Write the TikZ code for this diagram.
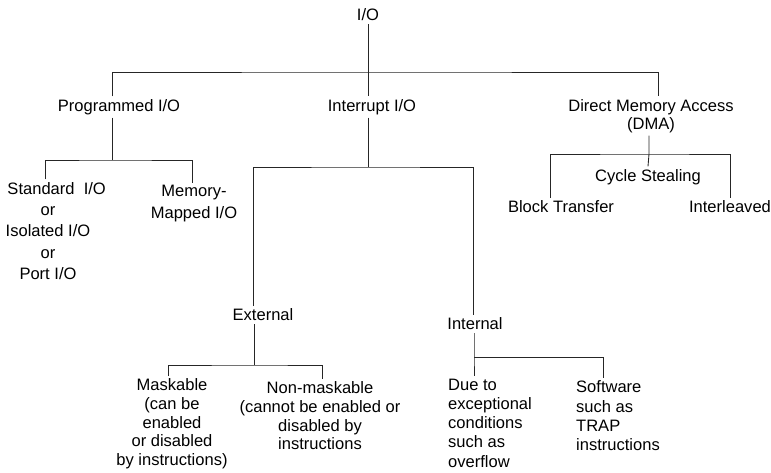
\documentclass[tikz,border=0pt]{standalone}
\usepackage{fontspec}
\setmainfont{Liberation Sans}
\usetikzlibrary{positioning}

\begin{document}
\begin{tikzpicture}[x=0.75pt,y=-0.75pt,
  lbl/.style={inner sep=2pt,align=center,font=\fontsize{12.4}{16}\selectfont},
  tight/.style={lbl,font=\fontsize{12.4}{14}\selectfont},
  wire/.style={line width=.65pt,draw=black!85}]
\useasboundingbox (0,0) rectangle (771,472);
% top level
\node[lbl] (io) at (368,15) {I/O};
\node[lbl] (prog) at (119,107) {Programmed I/O};
\node[lbl] (intr) at (372,107) {Interrupt I/O};
\node[tight,font=\fontsize{12.4}{13.5}\selectfont] (dma) at (651,116) {Direct Memory Access\\(DMA)};
\coordinate (topbar) at (368,72);
\draw[wire] (io.south) -- (topbar);
\draw[wire] ([xshift=-5.25pt]prog.north) |- (topbar) -| ([xshift=5.25pt]dma.north);
\draw[wire] (topbar) -- ([xshift=-3pt]intr.north);
% programmed I/O
\node[lbl] (std) at (48,231) {\hspace*{13pt}Standard\ \ I/O\\or\\Isolated I/O\\or\\Port I/O};
\node[lbl,font=\fontsize{12.4}{16.5}\selectfont] (mem) at (194,204) {Memory-\\Mapped I/O};
\coordinate (pbar) at (112,160);
\draw[wire] ([xshift=-5.25pt]prog.south) -- (pbar);
\draw[wire] ([xshift=-2.25pt]std.north) |- (pbar) -| ([xshift=-1.5pt]mem.north);
% interrupt I/O
\node[lbl] (ext) at (263,315) {External};
\node[lbl] (inn) at (475,324) {Internal};
\coordinate (ibar) at (368,167);
\draw[wire] ([xshift=-3pt]intr.south) -- (ibar);
\draw[wire] ([xshift=-7.5pt]ext.north) |- (ibar) -| ([xshift=-1.5pt]inn.north);
\node[tight] (mask) at (172,424) {Maskable\\(can be\\enabled\\or disabled\\by instructions)};
\node[tight] (nonm) at (320,416) {Non-maskable\\(cannot be enabled or\\disabled by\\instructions};
\coordinate (ebar) at (254,365);
\draw[wire] ([xshift=-6.75pt]ext.south) -- (ebar);
\draw[wire] ([xshift=-3pt]mask.north) |- (ebar) -| ([xshift=1.5pt]nonm.north);
\node[tight,align=left,font=\fontsize{12.4}{14.4}\selectfont] (due) at (490,423) {Due to\\exceptional\\conditions\\such as\\overflow};
\node[tight,align=left,font=\fontsize{12.4}{14.5}\selectfont] (soft) at (618,416) {Software\\such as\\TRAP\\instructions};
\coordinate (nbar) at (474,357);
\draw[wire] ([xshift=-0.75pt]inn.south) -- (nbar) -- ([xshift=-12pt]due.north);
\draw[wire] (nbar) -| ([xshift=-11.25pt]soft.north);
% DMA
\node[lbl] (cyc) at (648,177) {Cycle Stealing};
\node[lbl] (blk) at (561,207) {Block Transfer};
\node[lbl] (intl) at (730,207) {Interleaved};
\coordinate (dbar) at (649,154);
\draw[wire] ([xshift=-1.5pt]dma.south) -- (dbar) -- (cyc.north);
\draw[wire] ([xshift=-8.25pt]blk.north) |- (dbar) -| (intl.north);
\end{tikzpicture}
\end{document}
